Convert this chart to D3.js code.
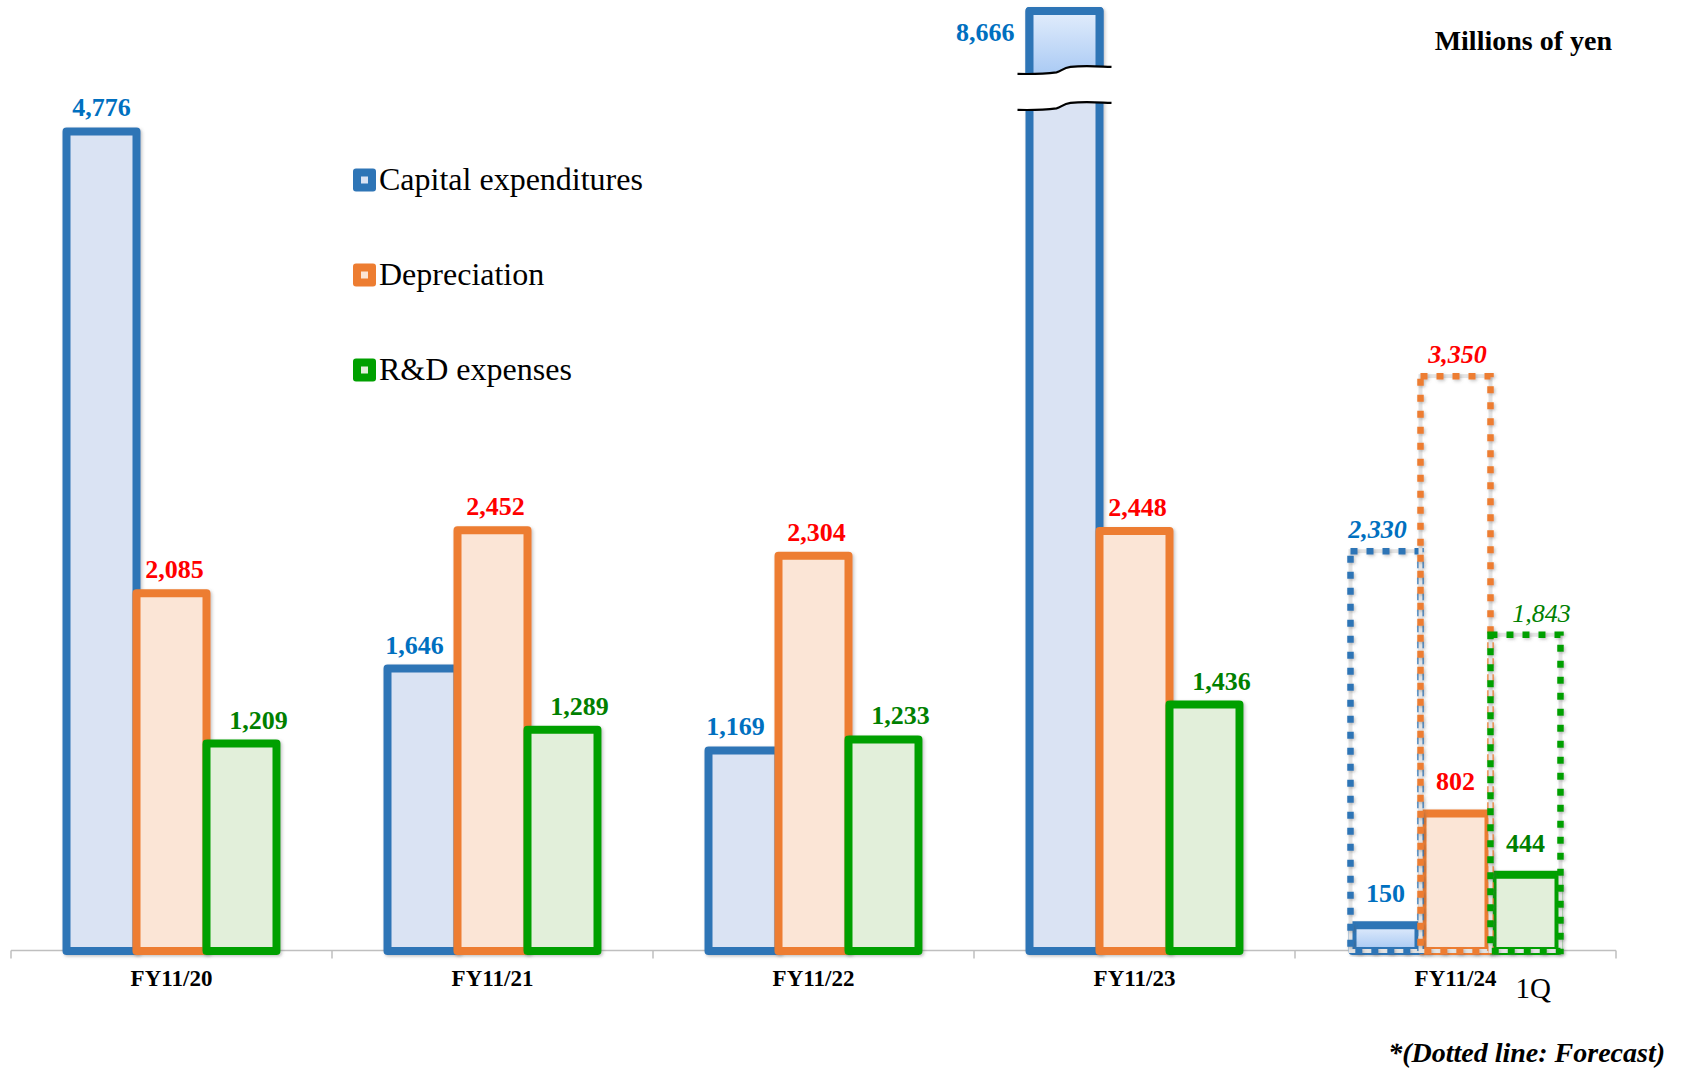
<!DOCTYPE html>
<html><head><meta charset="utf-8">
<script src="https://cdn.jsdelivr.net/npm/d3@7"></script>
<style>html,body{margin:0;padding:0;background:#fff}svg{display:block}</style>
</head><body>
<svg id="chart" width="1682" height="1070"></svg>
<script>
// ---- data ----
const categories = ["FY11/20", "FY11/21", "FY11/22", "FY11/23", "FY11/24"];
const seriesNames = ["Capital expenditures", "Depreciation", "R&D expenses"];
const capex = [4776, 1646, 1169, 8666, 150];
const depreciation = [2085, 2452, 2304, 2448, 802];
const rdExpenses = [1209, 1289, 1233, 1436, 444];
const forecastCategory = "FY11/24";
const forecastValues = [2330, 3350, 1843];
const quarterNote = "1Q";
const unitLabel = "Millions of yen";
const footnote = "*(Dotted line: Forecast)";
const breakValue = 4960;

// ---- styles ----
const strokeCol = ["#2E75B6", "#ED7D31", "#00A000"];
const fillCol = ["#DAE3F3", "#FBE5D6", "#E2EFDA"];
const labelCol = ["#0070C0", "#FF0000", "#008000"];
const forecastWeight = ["bold", "bold", "normal"];
const labelNudge = [-8, 3, 17];
const FONT = "'Liberation Serif','Times New Roman',serif";

const seriesData = [capex, depreciation, rdExpenses];
const svg = d3.select("#chart");

const defs = svg.append("defs");
const f = defs.append("filter").attr("id", "shadow").attr("x", "-20%").attr("y", "-20%").attr("width", "140%").attr("height", "140%");
f.append("feDropShadow").attr("dx", 1.5).attr("dy", 1.5).attr("stdDeviation", 1.8)
  .attr("flood-color", "#555").attr("flood-opacity", 0.35);
const g1 = defs.append("linearGradient").attr("id", "capGrad").attr("x1", 0).attr("y1", 0).attr("x2", 0).attr("y2", 1);
g1.append("stop").attr("offset", "0%").attr("stop-color", "#E2EDFC");
g1.append("stop").attr("offset", "100%").attr("stop-color", "#A5C7F3");

// ---- scales ----
const x0 = d3.scaleBand().domain(categories).range([11, 1616]).padding(0);
const groupW = 210;
const x1 = d3.scaleBand().domain(seriesNames).range([0, groupW]).padding(0);
const groupOff = (x0.bandwidth() - groupW) / 2;
const y = d3.scaleLinear()
  .domain([0, breakValue, d3.max(capex)])
  .range([951, 951 - breakValue * 0.1716, 11]);

const barX = (ci, si) => x0(categories[ci]) + groupOff + x1(seriesNames[si]);
const bw = x1.bandwidth();

// ---- axis ----
const axisY = 950.5;
svg.append("line").attr("x1", x0.range()[0]).attr("x2", x0.range()[1])
  .attr("y1", axisY).attr("y2", axisY).attr("stroke", "#BFBFBF").attr("stroke-width", 1.5);
const bounds = categories.map(c => x0(c)).concat([x0.range()[1]]);
svg.selectAll(".tickm").data(bounds).enter().append("line")
  .attr("x1", d => d).attr("x2", d => d).attr("y1", axisY).attr("y2", axisY + 8)
  .attr("stroke", "#BFBFBF").attr("stroke-width", 1.5);

const axisG = svg.append("g").attr("transform", `translate(0,${axisY})`)
  .call(d3.axisBottom(x0).tickSize(0).tickPadding(0));
axisG.select(".domain").remove();
axisG.selectAll("text").attr("dy", null).attr("y", 35)
  .style("font-family", FONT).style("font-weight", "bold").style("font-size", "23px").attr("fill", "#000");

svg.append("text").attr("x", x0(forecastCategory) + x0.bandwidth() / 2 + 60).attr("y", 998)
  .style("font-family", FONT).style("font-size", "29px").attr("fill", "#000").text(quarterNote);

// ---- forecast index ----
const fi = categories.indexOf(forecastCategory);

// ---- bars ----
const barsG = svg.append("g");
categories.forEach((c, ci) => {
  seriesNames.forEach((s, si) => {
    const v = seriesData[si][ci];
    const x = barX(ci, si);
    const inset = ci === fi ? 2 : 0;
    barsG.append("rect")
      .attr("x", x + inset).attr("y", y(v))
      .attr("width", bw - 2 * inset).attr("height", y(0) - y(v))
      .attr("fill", (ci === fi && si === 0) ? "url(#capGrad)" : fillCol[si])
      .attr("stroke", strokeCol[si]).attr("stroke-width", 8)
      .attr("stroke-linejoin", "round")
      .attr("filter", "url(#shadow)");
    if (v > breakValue) {
      const yb = y(breakValue);
      barsG.append("rect")
        .attr("x", x).attr("y", y(v)).attr("width", bw).attr("height", yb - 20 - y(v))
        .attr("fill", "url(#capGrad)").attr("stroke", strokeCol[si]).attr("stroke-width", 8)
        .attr("stroke-linejoin", "round");
    }
  });
});

// ---- forecast dotted bars ----
forecastValues.forEach((v, si) => {
  const x = barX(fi, si);
  barsG.append("rect").attr("x", x).attr("y", y(v)).attr("width", bw).attr("height", y(0) - y(v))
    .attr("fill", "none").attr("stroke", "#E4E4E4").attr("stroke-width", 4);
  barsG.append("rect").attr("x", x).attr("y", y(v)).attr("width", bw).attr("height", y(0) - y(v))
    .attr("fill", "none").attr("stroke", strokeCol[si]).attr("stroke-width", 6.5)
    .attr("stroke-dasharray", "7 9").attr("filter", "url(#shadow)");
});

// ---- axis break on tall bar ----
categories.forEach((c, ci) => {
  seriesNames.forEach((s, si) => {
    const v = seriesData[si][ci];
    if (v <= breakValue) return;
    const x = barX(ci, si);
    const xl = x - 12, xr = x + bw + 12, xm = (xl + xr) / 2;
    const yb = y(breakValue);
    const segs = (yl) => [
      [[xl, yl], [xl + 20, yl + 0.5], [xm - 20, yl], [xm - 8, yl - 1.5]],
      [[xm - 8, yl - 1.5], [xm - 3, yl - 2.5], [xm - 2, yl - 6], [xm + 6, yl - 7]],
      [[xm + 6, yl - 7], [xm + 20, yl - 8.5], [xr - 15, yl - 7.5], [xr, yl - 7]]
    ];
    const fwd = (sg) => `M${sg[0][0][0]},${sg[0][0][1]}` + sg.map(p => ` C${p[1]} ${p[2]} ${p[3]}`).join("");
    const rev = (sg) => sg.slice().reverse().map(p => ` C${p[2]} ${p[1]} ${p[0]}`).join("");
    const up = segs(yb - 26), lo = segs(yb + 10);
    const fillPath = fwd(up) + ` L${lo[2][3]}` + rev(lo) + " Z";
    svg.append("path").attr("d", fillPath).attr("fill", "#fff");
    svg.append("path").attr("d", fwd(up)).attr("fill", "none").attr("stroke", "#000").attr("stroke-width", 2.2);
    svg.append("path").attr("d", fwd(lo)).attr("fill", "none").attr("stroke", "#000").attr("stroke-width", 2.2);
  });
});

// ---- value labels ----
const fmt = d3.format(",");
categories.forEach((c, ci) => {
  seriesNames.forEach((s, si) => {
    const v = seriesData[si][ci];
    const x = barX(ci, si);
    const t = svg.append("text")
      .style("font-family", FONT).style("font-weight", "bold").style("font-size", "26px")
      .attr("fill", labelCol[si]).text(fmt(v));
    if (v > breakValue) {
      t.attr("x", x - 15).attr("y", y(v) + 30).attr("text-anchor", "end");
    } else if (ci === fi) {
      t.attr("x", x + bw / 2).attr("y", y(v) - 23).attr("text-anchor", "middle");
    } else {
      const dx = (si === 0 && v > 3000) ? 0 : labelNudge[si];
      t.attr("x", x + bw / 2 + dx).attr("y", y(v) - 15).attr("text-anchor", "middle");
    }
  });
});
forecastValues.forEach((v, si) => {
  const x = barX(fi, si);
  svg.append("text").attr("x", x + bw / 2 + (si === 2 ? 16 : (si === 0 ? -8 : 2))).attr("y", y(v) - 13)
    .attr("text-anchor", "middle")
    .style("font-family", FONT).style("font-weight", forecastWeight[si]).style("font-style", "italic")
    .style("font-size", "26px").attr("fill", labelCol[si]).text(fmt(v));
});

// ---- legend ----
const leg = svg.append("g");
seriesNames.forEach((s, si) => {
  const cy = 180 + si * 95;
  leg.append("rect").attr("x", 353).attr("y", cy - 11.5).attr("width", 23).attr("height", 23)
    .attr("rx", 3).attr("fill", strokeCol[si]);
  leg.append("rect").attr("x", 361).attr("y", cy - 3.5).attr("width", 7).attr("height", 7)
    .attr("fill", fillCol[si]);
  leg.append("text").attr("x", 379).attr("y", cy + 10)
    .style("font-family", FONT).style("font-size", "32px").attr("fill", "#000").text(s);
});

// ---- titles ----
svg.append("text").attr("x", 1612).attr("y", 50).attr("text-anchor", "end")
  .style("font-family", FONT).style("font-weight", "bold").style("font-size", "28px").attr("fill", "#000").text(unitLabel);
svg.append("text").attr("x", 1665).attr("y", 1062).attr("text-anchor", "end")
  .style("font-family", FONT).style("font-weight", "bold").style("font-style", "italic").style("font-size", "28px").attr("fill", "#000").text(footnote);
</script>
</body></html>
